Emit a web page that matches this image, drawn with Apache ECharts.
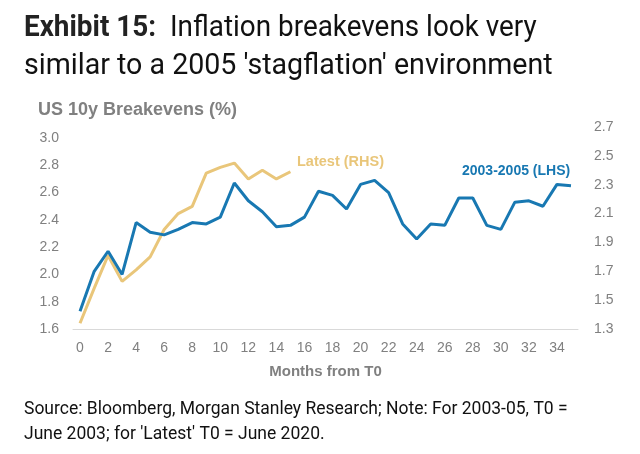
<!DOCTYPE html>
<html>
<head>
<meta charset="utf-8">
<script src="https://cdn.jsdelivr.net/npm/echarts@6/dist/echarts.min.js"></script>
<style>html,body{margin:0;padding:0;background:#fff}#c{width:640px;height:454px}</style>
</head>
<body>
<div id="c"></div>
<script>
var months = [];
for (var i = 0; i <= 35; i++) months.push(String(i));
var series2003 = [1.73,2.02,2.17,2.00,2.38,2.31,2.29,2.33,2.38,2.37,2.42,2.67,2.54,2.46,2.35,2.36,2.42,2.61,2.58,2.48,2.66,2.69,2.60,2.37,2.26,2.37,2.36,2.56,2.56,2.36,2.33,2.53,2.54,2.50,2.66,2.65];
var seriesLatest = [1.34,1.58,1.81,1.63,1.71,1.80,1.99,2.10,2.15,2.38,2.42,2.45,2.34,2.40,2.34,2.39];
var leftTicks = ['1.6','1.8','2.0','2.2','2.4','2.6','2.8','3.0'];
var rightTicks = ['1.3','1.5','1.7','1.9','2.1','2.3','2.5','2.7'];

var BLUE = '#1878b2';
var GOLD = '#e9c67a';
var GREY = '#808080';

var chart = echarts.init(document.getElementById('c'));
function tickFmt(list){
  return function(v){
    var s = v.toFixed(1);
    return (list.indexOf(s) >= 0 && Math.abs(v - parseFloat(s)) < 1e-6) ? s : '';
  };
}
chart.setOption({
  animation: false,
  backgroundColor: '#fff',
  grid: {left: 73, right: 62, top: 127, bottom: 125, containLabel: false},
  xAxis: {
    type: 'category',
    data: months,
    boundaryGap: true,
    name: 'Months from T0',
    nameLocation: 'middle',
    nameGap: 35,
    nameTextStyle: {color: GREY, fontWeight: 'bold', fontSize: 15, fontFamily: 'Liberation Sans'},
    axisLine: {lineStyle: {color: '#d9d9d9', width: 1}},
    axisTick: {show: false},
    axisLabel: {interval: 1, color: GREY, fontSize: 14, fontFamily: 'Liberation Sans', margin: 12}
  },
  yAxis: [{
    type: 'value', min: 1.6, max: 1.6 + 202/136.4, interval: 0.2,
    splitLine: {show: false}, axisLine: {show: false}, axisTick: {show: false},
    axisLabel: {color: GREY, fontSize: 14, fontFamily: 'Liberation Sans', margin: 14, formatter: tickFmt(leftTicks)}
  }, {
    type: 'value', min: 1.3, max: 2.7, interval: 0.2, position: 'right',
    splitLine: {show: false}, axisLine: {show: false}, axisTick: {show: false},
    axisLabel: {color: GREY, fontSize: 14, fontFamily: 'Liberation Sans', margin: 16, formatter: tickFmt(rightTicks)}
  }],
  series: [{
    name: '2003-2005 (LHS)', type: 'line', yAxisIndex: 0, data: series2003,
    symbol: 'none', lineStyle: {color: BLUE, width: 3}, z: 3
  }, {
    name: 'Latest (RHS)', type: 'line', yAxisIndex: 1, data: seriesLatest,
    symbol: 'none', lineStyle: {color: GOLD, width: 3}, z: 2
  }],
  graphic: [
    {type: 'text', x: 24, y: 14, scaleX: 0.975, style: {
      rich: {b: {fontWeight: 'bold', fontSize: 28.6, fontFamily: 'Roboto', fill: '#222'}, n: {fontSize: 28.6, fontFamily: 'Roboto', fill: '#111'}},
      text: '{b|Exhibit 15:}{n|  Inflation breakevens look very}', fill: '#111'}},
    {type: 'text', x: 24, y: 52, style: {text: "similar to a 2005 'stagflation' environment", fontSize: 28.6, fontFamily: 'Roboto', fill: '#111'}},
    {type: 'text', left: 38, top: 101, style: {text: 'US 10y Breakevens (%)', fontSize: 18, fontWeight: 'bold', fontFamily: 'Liberation Sans', fill: GREY}},
    {type: 'text', left: 297, top: 154, style: {text: 'Latest (RHS)', fontSize: 14.5, fontWeight: 'bold', fontFamily: 'Liberation Sans', fill: GOLD}},
    {type: 'text', left: 462, top: 164, style: {text: '2003-2005 (LHS)', fontSize: 14, fontWeight: 'bold', fontFamily: 'Liberation Sans', fill: BLUE}},
    {type: 'text', left: 24, top: 401, style: {text: 'Source: Bloomberg, Morgan Stanley Research; Note: For 2003-05, T0 =', fontSize: 17.5, fontFamily: 'Roboto', fill: '#111'}},
    {type: 'text', left: 24, top: 426, style: {text: "June 2003; for 'Latest' T0 = June 2020.", fontSize: 17.5, fontFamily: 'Roboto', fill: '#111'}}
  ]
});
</script>
</body>
</html>
